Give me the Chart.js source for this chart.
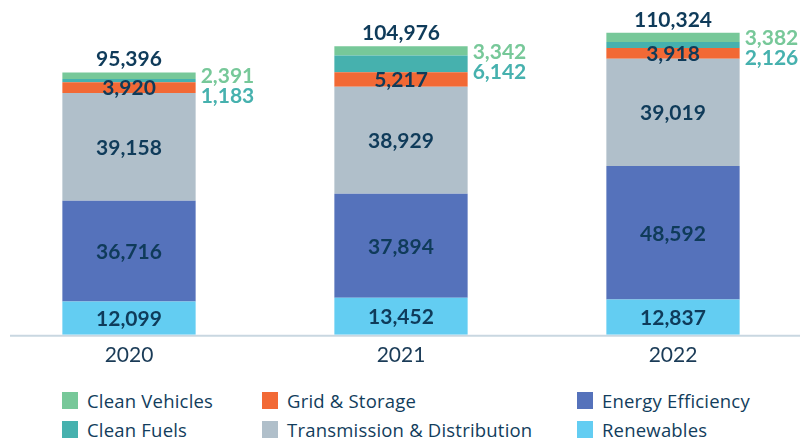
<!DOCTYPE html>
<html>
<head>
<meta charset="utf-8">
<script src="https://cdn.jsdelivr.net/npm/chart.js@4"></script>
<style>
  body { margin: 0; background: #fff; font-family: Lato, sans-serif; overflow: hidden; }
  #wrap { position: relative; left: -7px; width: 820px; height: 376px; }
  #legend { position: relative; width: 806px; height: 64px; }
  .item { position: absolute; display: flex; align-items: center; font-family: 'Open Sans', sans-serif; font-size: 18.5px; letter-spacing: 0.2px; color: #123d5c; }
  .item span.box { display: inline-block; width: 16px; height: 17px; margin-right: 9px; }
</style>
</head>
<body>
<div id="wrap"><canvas id="chart_spend"></canvas></div>
<div id="legend"></div>
<script>
var years = ['2020', '2021', '2022'];
var renewables = [12099, 13452, 12837];
var efficiency = [36716, 37894, 48592];
var transmission = [39158, 38929, 39019];
var gridStorage = [3920, 5217, 3918];
var cleanFuels = [1183, 6142, 2126];
var cleanVehicles = [2391, 3342, 3382];
var totals = [95396, 104976, 110324];

var navy = '#0f3b5a';

function fmt(v) { return v.toLocaleString('en-US'); }

// labels drawn by hand, no datalabels plugin here
var labelPlugin = {
  id: 'barLabels',
  beforeDatasetsDraw: function (chart) {
    // baseline, a bit shorter than the canvas
    var ctx = chart.ctx;
    var y = chart.scales.y.getPixelForValue(0);
    ctx.save();
    ctx.strokeStyle = '#c9d7e1';
    ctx.lineWidth = 2;
    ctx.beginPath();
    ctx.moveTo(17, y + 1);
    ctx.lineTo(807, y + 1);
    ctx.stroke();
    ctx.restore();
  },
  afterDatasetsDraw: function (chart) {
    var ctx = chart.ctx;
    ctx.save();
    ctx.textBaseline = 'middle';
    ctx.font = 'bold 21px Lato';
    chart.data.datasets.forEach(function (ds, i) {
      var meta = chart.getDatasetMeta(i);
      meta.data.forEach(function (bar, j) {
        var v = ds.data[j];
        var mid = (bar.y + bar.base) / 2;
        var right = bar.x + bar.width / 2 + 5;
        if (ds.outside == 'top') {
          ctx.fillStyle = ds.backgroundColor;
          ctx.textAlign = 'left';
          ctx.fillText(fmt(v), right, mid + 1);
        } else if (ds.outside == 'below') {
          var cv = chart.getDatasetMeta(i + 1).data[j];
          var y = Math.max(mid, (cv.y + cv.base) / 2 + 20);
          ctx.fillStyle = ds.backgroundColor;
          ctx.textAlign = 'left';
          ctx.fillText(fmt(v), right, y + 1);
        } else {
          ctx.fillStyle = navy;
          ctx.textAlign = 'center';
          ctx.fillText(fmt(v), bar.x, mid + 1);
        }
      });
    });
    // totals above each bar
    var last = chart.getDatasetMeta(chart.data.datasets.length - 1);
    last.data.forEach(function (bar, j) {
      ctx.fillStyle = navy;
      ctx.textAlign = 'center';
      ctx.fillText(fmt(totals[j]), bar.x, bar.y - 13);
    });
    ctx.restore();
  }
};

var chart = new Chart(document.getElementById('chart_spend'), {
  type: 'bar',
  data: {
    labels: years,
    datasets: [
      { label: 'Renewables', data: renewables, backgroundColor: '#63cdf2' },
      { label: 'Energy Efficiency', data: efficiency, backgroundColor: '#5572bb' },
      { label: 'Transmission & Distribution', data: transmission, backgroundColor: '#b0bfca' },
      { label: 'Grid & Storage', data: gridStorage, backgroundColor: '#f26935' },
      { label: 'Clean Fuels', data: cleanFuels, backgroundColor: '#46b1ae', outside: 'below' },
      { label: 'Clean Vehicles', data: cleanVehicles, backgroundColor: '#77c899', outside: 'top' }
    ]
  },
  options: {
    responsive: true,
    maintainAspectRatio: false,
    animation: false,
    events: [],
    layout: { padding: { top: 5, left: 0, right: 4 } },
    datasets: { bar: { categoryPercentage: 1, barPercentage: 0.49 } },
    plugins: { legend: { display: false }, tooltip: { enabled: false } },
    scales: {
      x: {
        stacked: true,
        grid: { display: false, drawTicks: false },
        border: { display: false },
        ticks: { color: '#1a3b57', font: { family: 'Lato', size: 21 }, padding: 8 }
      },
      y: { stacked: true, display: false, min: 0, max: 120000 }
    }
  },
  plugins: [labelPlugin]
});

// legend in two rows, three columns
var legendOrder = [
  ['Clean Vehicles', 62, 12], ['Grid & Storage', 262, 12], ['Energy Efficiency', 577, 12],
  ['Clean Fuels', 62, 41], ['Transmission & Distribution', 262, 41], ['Renewables', 577, 41]
];
var legendBox = document.getElementById('legend');
legendOrder.forEach(function (l) {
  var ds = chart.data.datasets.filter(function (d) { return d.label == l[0]; })[0];
  var el = document.createElement('div');
  el.className = 'item';
  el.style.left = l[1] + 'px';
  el.style.top = l[2] + 'px';
  el.innerHTML = '<span class="box" style="background:' + ds.backgroundColor + '"></span>' + ds.label;
  legendBox.appendChild(el);
});
</script>
</body>
</html>
